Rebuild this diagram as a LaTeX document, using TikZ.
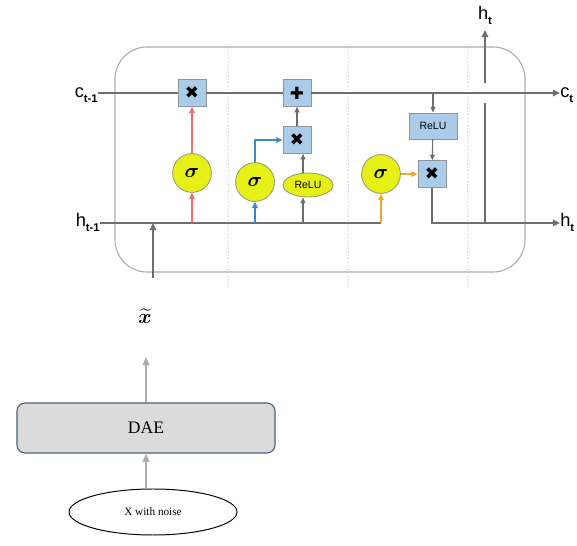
\documentclass[tikz,border=0pt]{standalone}
\usepackage{amsmath}
\usepackage{fontspec}
\setmainfont{Liberation Serif}
\setsansfont{Liberation Sans}
\newfontfamily\symfont{DejaVu Sans}
\usetikzlibrary{arrows.meta,positioning,shapes.geometric}
\definecolor{cellgray}{RGB}{110,110,110}
\definecolor{boxblue}{RGB}{170,204,232}
\definecolor{boxedge}{RGB}{140,150,162}
\definecolor{sigyellow}{RGB}{228,240,22}
\definecolor{sigedge}{RGB}{150,150,120}
\definecolor{gatered}{RGB}{232,112,112}
\definecolor{gateblue}{RGB}{60,135,200}
\definecolor{gateorange}{RGB}{245,165,50}
\definecolor{daeedge}{RGB}{75,95,125}
\definecolor{lightarr}{RGB}{172,172,172}

\begin{document}
\begin{tikzpicture}[x=1cm,y=1cm,font=\sffamily,
op/.style={draw=boxedge,line width=.6pt,fill=boxblue,minimum width=.7cm,minimum height=.67cm,inner sep=0pt,font=\symfont\fontsize{12}{12}\selectfont},
sig/.style={circle,draw=sigedge,line width=.6pt,fill=sigyellow,minimum size=.97cm,inner sep=0pt,font=\boldmath\fontsize{14}{14}\selectfont},
wire/.style={draw=cellgray,line width=1.3pt},
warr/.style={-{Triangle[length=5pt,width=4.5pt]},line width=1.3pt,draw=cellgray},
sarr/.style={-{Triangle[length=4pt,width=3.5pt]},line width=.8pt,draw=cellgray},
garr/.style={-{Triangle[length=4.5pt,width=4pt]},line width=1pt},
lab/.style={font=\sffamily\fontsize{13}{13}\selectfont,inner sep=0pt}]

\useasboundingbox(0,0)rectangle(14.425,13.65);
% cell outline and separators
\draw[lightarr,line width=.8pt,rounded corners=.8cm](2.875,6.85)rectangle(13.125,12.475);
\foreach \xx in {5.7,8.7,11.675}{\draw[lightarr!70,line width=.5pt,dotted](\xx,6.475)--(\xx,12.55);}

% labels at the ends
\node[lab,anchor=base east](ct1)at(2.45,11.2){c\raisebox{-.45ex}{\fontsize{8}{8}\selectfont\bfseries t-1}};
\node[lab,anchor=base east](ht1)at(2.5,7.975){h\raisebox{-.45ex}{\fontsize{8}{8}\selectfont\bfseries t-1}};
\node[lab,anchor=base west](ct)at(14.0,11.2){c\raisebox{-.45ex}{\fontsize{8}{8}\selectfont\bfseries t}};
\node[lab,anchor=base west](ht)at(14.0,7.975){h\raisebox{-.45ex}{\fontsize{8}{8}\selectfont\bfseries t}};
\node[lab,anchor=base](htop)at(12.125,13.15){h\raisebox{-.45ex}{\fontsize{8}{8}\selectfont\bfseries t}};

% gates
\node[op](mulf)at(4.8,11.325){✖};
\node[op](addc)at(7.425,11.325){✚};
\node[op](muli)at(7.425,10.15){✖};
\node[op](mulo)at(10.8,9.3){✖};
\node[op,minimum width=1.2cm,minimum height=.65cm,font=\sffamily\fontsize{7.5}{7.5}\selectfont](reluc)at(10.825,10.5){ReLU};
\node[sig](sigf)at(4.8,9.325){$\sigma$};
\node[sig](sigi)at(6.375,9.1){$\sigma$};
\node[sig](sigo)at(9.525,9.3){$\sigma$};
\node[ellipse,draw=sigedge,line width=.6pt,fill=sigyellow,minimum width=1.25cm,minimum height=.6cm,inner sep=0pt,font=\sffamily\fontsize{7.5}{7.5}\selectfont](relu)at(7.7,9.025){ReLU};
\coordinate(hin)at(3.825,6.7);
\coordinate(hup)at(12.125,12.9);

% cell state and hidden lines
\draw[wire](ct1.east|-mulf)--(mulf);
\draw[wire](mulf)--(addc);
\draw[warr](addc)--(ct.west|-addc);
\draw[wire](ht1.east|-0,8.075)--(sigo|-0,8.075);
\draw[warr](hin)--(hin|-0,8.075);

% forget gate
\draw[garr,draw=gatered,-{Triangle[length=4.5pt,width=4pt,fill=gatered]}](sigf|-0,8.075)--(sigf);
\draw[garr,draw=gatered,-{Triangle[length=4.5pt,width=4pt,fill=gatered]}](sigf)--(mulf);
% input gate
\draw[garr,draw=gateblue,-{Triangle[length=4.5pt,width=4pt,fill=gateblue]}](sigi|-0,8.075)--(sigi);
\draw[garr,draw=gateblue,-{Triangle[length=4.5pt,width=4pt,fill=gateblue]}](sigi.north)|-(muli.west);
\draw[sarr](relu.north-|7.575,0)--(muli.south-|7.575,0);
\draw[sarr](7.575,8.075)--(relu.south-|7.575,0);
\draw[sarr](muli)--(addc);
% output gate
\draw[garr,draw=gateorange,-{Triangle[length=4.5pt,width=4pt,fill=gateorange]}](sigo|-0,8.075)--(sigo);
\draw[garr,draw=gateorange,-{Triangle[length=4.5pt,width=4pt,fill=gateorange]}](sigo)--(mulo);
\draw[sarr](reluc|-addc)--(reluc);
\draw[sarr](reluc)--(mulo);
\draw[warr](mulo)|-(ht.west|-0,8.075);
\draw[wire](12.125,8.075)--(12.125,11.075);
\draw[warr](12.125,11.575)--(hup);

% denoising autoencoder
\node[draw=daeedge,line width=.8pt,fill=black!14,rounded corners=.2cm,minimum width=6.45cm,minimum height=1.25cm,font=\rmfamily\fontsize{12.5}{12.5}\selectfont](dae)at(3.65,2.95){DAE};
\node[ellipse,draw=black,line width=.7pt,minimum width=4.2cm,minimum height=1.15cm,font=\rmfamily\fontsize{8}{8}\selectfont](noise)at(3.825,.85){X with noise};
\node[font=\boldmath\fontsize{15}{15}\selectfont](xt)at(3.625,5.75){$\widetilde{x}$};
\draw[garr,draw=lightarr,-{Triangle[length=6pt,width=5pt,fill=lightarr]}](noise.north-|dae.south)--(dae.south);
\draw[garr,draw=lightarr,-{Triangle[length=6pt,width=5pt,fill=lightarr]}](dae.north)--(3.65,4.725);
\end{tikzpicture}
\end{document}
